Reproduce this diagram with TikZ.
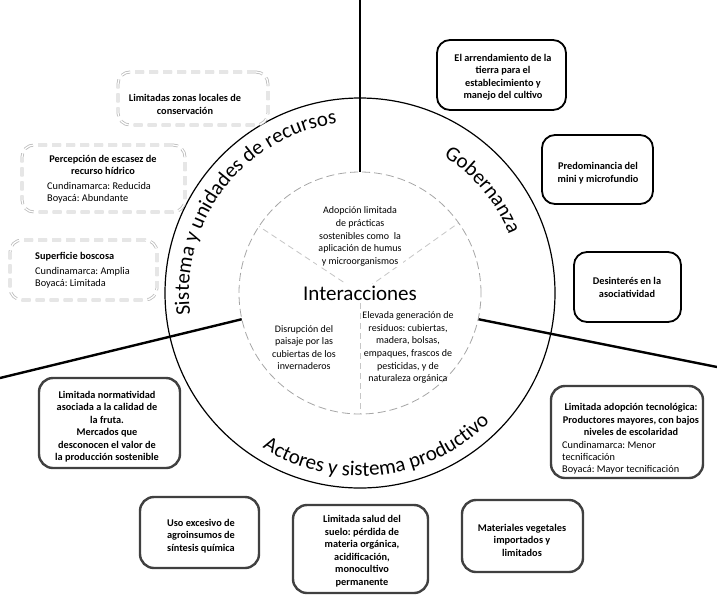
\documentclass[tikz,border=0pt]{standalone}
\usepackage{fontspec}
\setmainfont{Carlito}
\usetikzlibrary{calc,decorations.text}
\newcommand\curvefont{\fontsize{21}{21}\selectfont}
\frenchspacing
\tikzset{
  dbox/.style={draw=gray!55, double=white, double distance=1.3pt, line width=0.8pt,
    dash pattern=on 9pt off 5pt, rounded corners=12pt, inner sep=0pt},
  sbox/.style={draw=black, line width=1.8pt, rounded corners=13pt, inner sep=0pt},
  gbox/.style={draw=black!75, line width=2.4pt, rounded corners=14pt, inner sep=0pt},
  btxt/.style={font=\fontsize{10.3}{12.5}\selectfont\bfseries, align=center, inner sep=0pt},
  dtxt/.style={font=\fontsize{10.3}{12.2}\selectfont, align=left, inner sep=0pt, anchor=west},
  itxt/.style={font=\fontsize{10}{12.6}\selectfont, align=center, inner sep=1pt},
  sepline/.style={line width=2.4pt, black},
  divline/.style={gray!45, line width=0.8pt, dash pattern=on 6pt off 4pt},
}
\begin{document}
\begin{tikzpicture}[x=1pt,y=1pt]
\useasboundingbox (0,0) rectangle (717,-595);
\coordinate (OC) at (360,-293);
\coordinate (IC) at (360,-293);
% separators
\coordinate (T) at (360,0);
\coordinate (Ti) at ($(IC)+(90:121)$);
\coordinate (L) at (0,-378);
\coordinate (Li) at ($(IC)+(192.5:121)$);
\coordinate (R) at (717,-367);
\coordinate (Ri) at ($(IC)+(-12.5:121)$);
% outer circle
\draw[line width=1.2pt] (OC) circle[radius=195];
\draw[sepline] (T) -- (Ti);
\draw[sepline] (L) -- (Li);
\draw[sepline] (R) -- (Ri);
% inner circle and dividers
\fill[white] (IC) circle[radius=121];
\coordinate (D1) at ($(IC)+(146.6:121)$);
\coordinate (D2) at ($(IC)+(35.4:121)$);
\coordinate (D3) at ($(IC)+(270:121)$);
\draw[divline] (IC) -- (D1);
\draw[divline] (IC) -- (D2);
\draw[divline] (IC) -- (D3);
\draw[gray!70, line width=0.8pt, dash pattern=on 8pt off 4pt] (IC) circle[radius=121];
% inner texts
\node[itxt, fill=white] (adop) at (360,-236.5) {Adopción limitada\\de prácticas\\sostenibles como\ \ la\\aplicación de humus\\y microorganismos};
\node[fill=white, inner sep=2pt, font=\fontsize{21}{21}\selectfont] (inter) at (360,-293) {Interacciones};
\node[itxt] (disr) at (304,-347.5) {Disrupción del\\paisaje por las\\cubiertas de los\\invernaderos};
\node[itxt] (elev) at (408,-347.5) {Elevada generación de\\residuos: cubiertas,\\madera, bolsas,\\empaques, frascos de\\pesticidas, y de\\naturaleza orgánica};
% curved labels
\path[decorate, decoration={text along path, text={|\curvefont|Sistema y unidades de recursos}, text align=center}]
  ($(OC)+(190:171)$) arc[start angle=190, end angle=95, radius=171];
\path[decorate, decoration={text along path, text={|\curvefont|Gobernanza}, text align=center}]
  ($(OC)+(65:160)$) arc[start angle=65, end angle=15, radius=160];
\path[decorate, decoration={text along path, text={|\curvefont|Actores y sistema productivo}, text align=center}]
  ($(OC)+(-128.5:183)$) arc[start angle=-128.5, end angle=-38.5, radius=183];
% dashed boxes (left)
\node[dbox, minimum width=150pt, minimum height=53pt] (b1) at (193,-98.5) {};
\node[btxt] (t1) at (185,-104.5) {Limitadas zonas locales de\\conservación};
\node[dbox, minimum width=163pt, minimum height=67pt] (b2) at (103.5,-178.5) {};
\node[btxt] (t2) at (103,-165) {Percepción de escasez de\\recurso hídrico};
\node[dtxt] (d2) at (47,-192.5) {Cundinamarca: Reducida\\Boyacá: Abundante};
\node[dbox, minimum width=147pt, minimum height=60pt] (b3) at (83.5,-270) {};
\node[btxt, anchor=west] (t3) at (35,-257) {Superficie boscosa};
\node[dtxt] (d3) at (35,-278) {Cundinamarca: Amplia\\Boyacá: Limitada};
% solid boxes (right)
\node[sbox, minimum width=129pt, minimum height=70pt] (bA) at (501.5,-75) {};
\node[btxt] (tA) at (503,-77.5) {El arrendamiento de la\\tierra para el\\establecimiento y\\manejo del cultivo};
\node[sbox, minimum width=111pt, minimum height=69pt] (bB) at (597.5,-169.5) {};
\node[btxt] (tB) at (598,-173) {Predominancia del\\mini y microfundio};
\node[sbox, minimum width=107pt, minimum height=70pt] (bC) at (627.5,-287) {};
\node[btxt] (tC) at (627,-287.5) {Desinterés en la\\asociatividad};
% grey boxes (bottom)
\node[gbox, minimum width=141pt, minimum height=90pt] (bD) at (109.5,-423) {};
\node[btxt] (tD) at (107,-426.5) {Limitada normatividad\\asociada a la calidad de\\la fruta.\\Mercados que\\desconocen el valor de\\la producción sostenible};
\node[gbox, minimum width=119pt, minimum height=71pt] (bE) at (199.5,-532.5) {};
\node[btxt] (tE) at (201,-536) {Uso excesivo de\\agroinsumos de\\síntesis química};
\node[gbox, minimum width=135pt, minimum height=88pt] (bF) at (360.5,-549) {};
\node[btxt] (tF) at (362,-551) {Limitada salud del\\suelo: pérdida de\\materia orgánica,\\acidificación,\\monocultivo\\permanente};
\node[gbox, minimum width=121pt, minimum height=72pt] (bG) at (522.5,-536) {};
\node[btxt] (tG) at (522,-540) {Materiales vegetales\\importados y\\limitados};
\node[gbox, minimum width=152pt, minimum height=92pt] (bH) at (627,-432) {};
\node[btxt] (tH) at (631,-419.5) {Limitada adopción tecnológica:\\Productores mayores, con bajos\\niveles de escolaridad};
\node[dtxt] (dH) at (562,-457.5) {Cundinamarca: Menor\\tecnificación\\Boyacá: Mayor tecnificación};
\end{tikzpicture}
\end{document}
